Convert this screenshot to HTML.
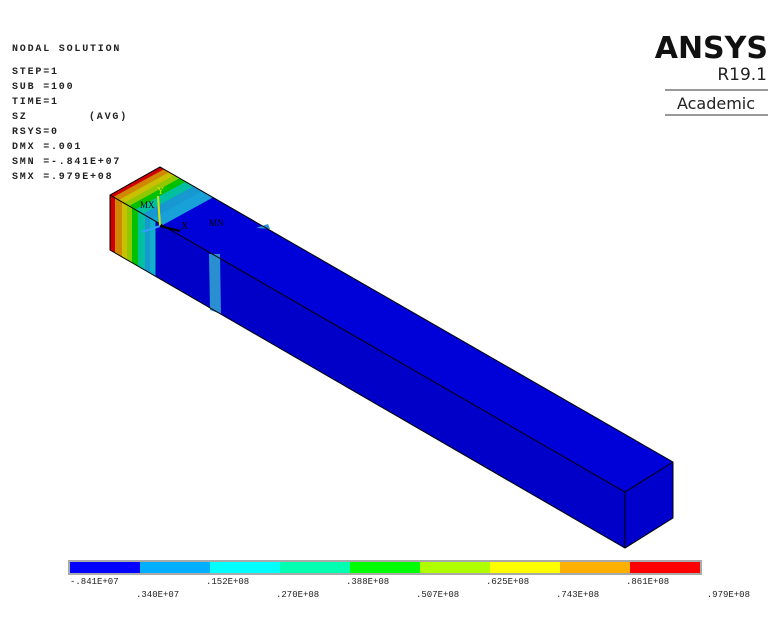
<!DOCTYPE html>
<html><head><meta charset="utf-8"><style>
body{margin:0;background:#fff;width:779px;height:630px;overflow:hidden}
svg{display:block}
.t{font-family:"Liberation Mono",monospace;font-size:10px;font-weight:bold;fill:#222;letter-spacing:1.8px;white-space:pre}
.l{font-family:"Liberation Mono",monospace;font-size:9px;fill:#222}
</style></head><body>
<svg id="c" width="779" height="630">
<g>
<text class="t" x="12" y="51">NODAL SOLUTION</text>
<text class="t" x="12" y="74">STEP=1</text>
<text class="t" x="12" y="89">SUB =100</text>
<text class="t" x="12" y="104">TIME=1</text>
<text class="t" x="12" y="119">SZ</text>
<text class="t" x="89" y="119">(AVG)</text>
<text class="t" x="12" y="134">RSYS=0</text>
<text class="t" x="12" y="149">DMX =.001</text>
<text class="t" x="12" y="164">SMN =-.841E+07</text>
<text class="t" x="12" y="179">SMX =.979E+08</text>
</g>
<g font-family="DejaVu Sans,sans-serif">
<text x="768" y="58" text-anchor="end" font-size="30" font-weight="bold" fill="#111">ANSYS</text>
<text x="767" y="80" text-anchor="end" font-size="17" fill="#222">R19.1</text>
<rect x="665" y="89" width="103" height="2" fill="#999"/>
<text x="716" y="109" text-anchor="middle" font-size="16" fill="#222">Academic</text>
<rect x="665" y="114" width="103" height="2" fill="#999"/>
</g>
<g id="beam">
<defs>
<clipPath id="front"><polygon points="110,195 625,492 625,548 110,250"/></clipPath>
<clipPath id="top"><polygon points="110,195 160,167 673,462 625,492"/></clipPath>
</defs>
<polygon points="110,195 625,492 625,548 110,250" fill="#0000c8"/>
<polygon points="110,195 160,167 673,462 625,492" fill="#0000d8"/>
<polygon points="625,492 673,462 673,518 625,548" fill="#0000cc"/>
<g id="frontBands" clip-path="url(#front)"></g>
<g id="topBands" clip-path="url(#top)"></g>
<path d="M209,254 L220,254 L221,314 L210,310 Z" fill="#2a8fd0"/>
<path d="M256,228 L268,224 L270,229 Z" fill="#2a8fd0"/>
<polyline points="110,195 625,492 673,462" fill="none" stroke="#000" stroke-width="1"/>
<polygon points="110,195 160,167 673,462 673,518 625,548 110,250" fill="none" stroke="#000" stroke-width="1"/>
<line x1="625" y1="492" x2="625" y2="548" stroke="#000"/>
<g>
<line x1="160" y1="226" x2="158" y2="196" stroke="#e0e000" stroke-width="2"/>
<line x1="160" y1="226" x2="142" y2="232" stroke="#30a0ff" stroke-width="2"/>
<line x1="160" y1="226" x2="180" y2="231" stroke="#000" stroke-width="2"/>
<text x="157" y="194" font-size="10" fill="#e0e000" font-family="Liberation Serif,serif">Y</text>
<text x="181" y="229" font-size="10" fill="#000" font-family="Liberation Serif,serif">X</text>
<text x="140" y="208" font-size="9" fill="#000" font-family="Liberation Serif,serif">MX</text>
<text x="209" y="226" font-size="9" fill="#000" font-family="Liberation Serif,serif">MN</text>
</g>
</g>
<g id="legend"></g>
</svg>
<script>
const legendColors=["#0000ff","#00b0ff","#00ffff","#00ffb0","#00ff00","#b0ff00","#ffff00","#ffb000","#ff0000"];
const legendLabels=["-.841E+07",".340E+07",".152E+08",".270E+08",".388E+08",".507E+08",".625E+08",".743E+08",".861E+08",".979E+08"];
const frontBandColors=["#d00000","#d08800","#c8c000","#90c800","#00c000","#00c0a0","#1898d0","#10b0c8"];
const frontBandWidths=[5,7,5,5,6,7,5,5];
const topBandColors=["#d00000","#d08800","#c8c000","#90c800","#00c000","#00c0a0","#1898d0","#18a0d8"];
const topBandWidths=[4,6,6,6,7,9,10,12];
const NS="http://www.w3.org/2000/svg";
const lg=document.getElementById('legend');
const x0=70,bw=70,y0=562,bh=11;
const bg=document.createElementNS(NS,'rect');
bg.setAttribute('x',x0-2);bg.setAttribute('y',y0-2);bg.setAttribute('width',legendColors.length*bw+4);bg.setAttribute('height',bh+4);bg.setAttribute('fill','#aaa');


lg.appendChild(bg);
legendColors.forEach((c,i)=>{const r=document.createElementNS(NS,'rect');
r.setAttribute('x',x0+i*bw);r.setAttribute('y',y0);r.setAttribute('width',bw);r.setAttribute('height',bh);r.setAttribute('fill',c);


lg.appendChild(r);});
legendLabels.forEach((s,i)=>{const t=document.createElementNS(NS,'text');
const x=x0+i*bw;t.setAttribute('y',i%2==0?584:597);
t.setAttribute('class','l');
if(i==0)t.setAttribute('x',x);
else if(i==legendLabels.length-1){t.setAttribute('x',x+50);t.setAttribute('text-anchor','end');}
else t.setAttribute('x',x-4);
t.textContent=s;


lg.appendChild(t);});
const fb=document.getElementById('frontBands');let fx=110;
frontBandColors.forEach((c,i)=>{const w=frontBandWidths[i];const r=document.createElementNS(NS,'rect');
r.setAttribute('x',fx);r.setAttribute('y',160);r.setAttribute('width',w+0.5);r.setAttribute('height',120);r.setAttribute('fill',c);


fb.appendChild(r);fx+=w;});
const tb=document.getElementById('topBands');let off=0;const ux=0.866,uy=0.5;
topBandColors.forEach((c,i)=>{const w=topBandWidths[i];const a=off,b=off+w+0.5;
const p=document.createElementNS(NS,'polygon');
const pts=[[110+ux*a,195+uy*a],[170+ux*a,162+uy*a],[170+ux*b,162+uy*b],[110+ux*b,195+uy*b]];
p.setAttribute('points',pts.map(q=>q.join(',')).join(' '));p.setAttribute('fill',c);


tb.appendChild(p);off+=w;});
</script>
</body></html>
